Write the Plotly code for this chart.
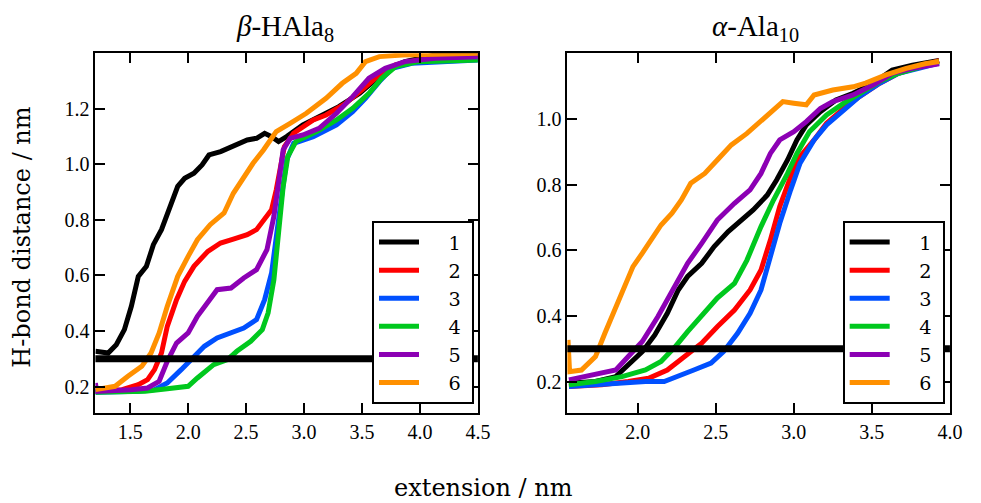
import plotly.graph_objects as go

# ---------------- data ----------------
series_names = ["1", "2", "3", "4", "5", "6"]
series_colors = ["#000000", "#ff0000", "#0050ff", "#00c81e", "#8c00b4", "#ff9000"]
threshold = 0.3

# beta-HAla8 (left panel)
b1_x = [1.20, 1.31, 1.38, 1.45, 1.51, 1.57, 1.64, 1.70, 1.77, 1.84, 1.91, 1.97, 2.05, 2.12, 2.18, 2.28, 2.39, 2.51, 2.59, 2.66, 2.72, 2.78, 2.85, 2.99, 3.13, 3.30, 3.48, 3.62, 3.73, 3.87, 4.13, 4.50]
b1_y = [0.327, 0.321, 0.351, 0.405, 0.489, 0.597, 0.633, 0.711, 0.765, 0.837, 0.921, 0.950, 0.968, 0.998, 1.034, 1.046, 1.064, 1.088, 1.094, 1.112, 1.100, 1.082, 1.100, 1.142, 1.172, 1.208, 1.256, 1.304, 1.346, 1.370, 1.394, 1.394]
b2_x = [1.20, 1.43, 1.57, 1.65, 1.71, 1.77, 1.82, 1.90, 1.97, 2.05, 2.17, 2.28, 2.39, 2.51, 2.59, 2.65, 2.72, 2.76, 2.79, 2.83, 2.91, 3.08, 3.19, 3.36, 3.50, 3.65, 3.79, 3.99, 4.50]
b2_y = [0.183, 0.189, 0.207, 0.225, 0.261, 0.321, 0.417, 0.513, 0.579, 0.633, 0.687, 0.717, 0.731, 0.747, 0.765, 0.795, 0.837, 0.908, 0.980, 1.064, 1.112, 1.160, 1.178, 1.220, 1.268, 1.322, 1.358, 1.376, 1.382]
b3_x = [1.20, 1.57, 1.71, 1.82, 1.94, 2.02, 2.14, 2.25, 2.37, 2.48, 2.59, 2.66, 2.72, 2.76, 2.81, 2.85, 2.91, 3.08, 3.28, 3.42, 3.53, 3.65, 3.76, 3.93, 4.50]
b3_y = [0.180, 0.183, 0.189, 0.213, 0.261, 0.297, 0.345, 0.375, 0.393, 0.411, 0.441, 0.513, 0.609, 0.753, 0.896, 1.016, 1.076, 1.100, 1.142, 1.190, 1.238, 1.298, 1.346, 1.364, 1.376]
b4_x = [1.20, 1.63, 1.82, 2.00, 2.08, 2.22, 2.34, 2.42, 2.54, 2.64, 2.69, 2.74, 2.78, 2.82, 2.86, 2.93, 3.11, 3.28, 3.42, 3.56, 3.67, 3.79, 3.99, 4.50]
b4_y = [0.180, 0.183, 0.192, 0.201, 0.231, 0.279, 0.297, 0.327, 0.363, 0.405, 0.465, 0.585, 0.753, 0.920, 1.028, 1.082, 1.118, 1.160, 1.202, 1.256, 1.310, 1.352, 1.370, 1.376]
b5_x = [1.20, 1.21, 1.51, 1.65, 1.75, 1.82, 1.90, 2.00, 2.08, 2.17, 2.25, 2.37, 2.48, 2.59, 2.68, 2.74, 2.78, 2.82, 2.88, 2.99, 3.13, 3.28, 3.42, 3.56, 3.70, 3.87, 4.13, 4.50]
b5_y = [0.213, 0.183, 0.189, 0.195, 0.219, 0.291, 0.357, 0.393, 0.453, 0.501, 0.549, 0.555, 0.591, 0.621, 0.693, 0.813, 0.944, 1.052, 1.094, 1.106, 1.130, 1.184, 1.244, 1.310, 1.346, 1.370, 1.382, 1.388]
b6_x = [1.20, 1.37, 1.48, 1.60, 1.68, 1.75, 1.82, 1.91, 2.00, 2.08, 2.19, 2.31, 2.39, 2.48, 2.56, 2.65, 2.76, 2.88, 3.02, 3.19, 3.33, 3.45, 3.53, 3.65, 3.85, 4.50]
b6_y = [0.189, 0.201, 0.237, 0.273, 0.321, 0.393, 0.489, 0.597, 0.669, 0.729, 0.783, 0.825, 0.896, 0.956, 1.004, 1.052, 1.118, 1.148, 1.184, 1.238, 1.292, 1.328, 1.370, 1.388, 1.394, 1.400]

# alpha-Ala10 (right panel)
a1_x = [1.56, 1.73, 1.86, 1.94, 2.03, 2.11, 2.19, 2.26, 2.32, 2.41, 2.49, 2.58, 2.66, 2.74, 2.83, 2.89, 2.96, 3.02, 3.08, 3.17, 3.27, 3.38, 3.51, 3.63, 3.76, 3.84, 3.93]
a1_y = [0.195, 0.200, 0.215, 0.251, 0.291, 0.342, 0.408, 0.479, 0.520, 0.560, 0.611, 0.657, 0.692, 0.723, 0.768, 0.814, 0.875, 0.936, 0.982, 1.022, 1.058, 1.078, 1.109, 1.149, 1.164, 1.172, 1.178]
a2_x = [1.56, 1.77, 1.94, 2.07, 2.19, 2.30, 2.41, 2.51, 2.62, 2.72, 2.79, 2.85, 2.91, 2.98, 3.04, 3.13, 3.21, 3.32, 3.42, 3.55, 3.67, 3.80, 3.93]
a2_y = [0.185, 0.190, 0.200, 0.210, 0.235, 0.276, 0.317, 0.367, 0.418, 0.479, 0.540, 0.631, 0.733, 0.824, 0.885, 0.936, 0.987, 1.032, 1.068, 1.109, 1.139, 1.159, 1.178]
a3_x = [1.56, 1.84, 2.05, 2.17, 2.26, 2.36, 2.47, 2.55, 2.64, 2.72, 2.79, 2.85, 2.91, 2.98, 3.04, 3.13, 3.21, 3.32, 3.42, 3.55, 3.67, 3.80, 3.93]
a3_y = [0.185, 0.195, 0.200, 0.200, 0.215, 0.235, 0.256, 0.291, 0.347, 0.408, 0.479, 0.581, 0.682, 0.784, 0.865, 0.936, 0.982, 1.027, 1.068, 1.109, 1.139, 1.154, 1.170]
a4_x = [1.56, 1.73, 1.90, 2.05, 2.15, 2.24, 2.32, 2.41, 2.51, 2.62, 2.70, 2.79, 2.87, 2.96, 3.02, 3.10, 3.21, 3.32, 3.42, 3.55, 3.67, 3.80, 3.93]
a4_y = [0.190, 0.200, 0.215, 0.235, 0.261, 0.306, 0.352, 0.398, 0.454, 0.499, 0.570, 0.672, 0.753, 0.834, 0.895, 0.961, 1.012, 1.048, 1.078, 1.114, 1.139, 1.159, 1.175]
a5_x = [1.56, 1.73, 1.86, 1.94, 2.03, 2.13, 2.24, 2.32, 2.41, 2.51, 2.62, 2.72, 2.79, 2.85, 2.91, 3.00, 3.08, 3.17, 3.25, 3.38, 3.51, 3.63, 3.76, 3.93]
a5_y = [0.205, 0.220, 0.235, 0.276, 0.322, 0.398, 0.489, 0.560, 0.621, 0.692, 0.743, 0.784, 0.834, 0.895, 0.936, 0.961, 0.992, 1.032, 1.053, 1.073, 1.104, 1.139, 1.154, 1.168]
a6_x = [1.554, 1.564, 1.64, 1.73, 1.79, 1.86, 1.92, 1.97, 2.03, 2.09, 2.15, 2.22, 2.28, 2.34, 2.43, 2.51, 2.60, 2.70, 2.79, 2.87, 2.93, 3.00, 3.08, 3.13, 3.25, 3.38, 3.46, 3.59, 3.72, 3.84, 3.93]
a6_y = [0.327, 0.230, 0.235, 0.276, 0.347, 0.428, 0.489, 0.550, 0.591, 0.631, 0.677, 0.713, 0.753, 0.804, 0.834, 0.875, 0.921, 0.956, 0.992, 1.027, 1.053, 1.048, 1.043, 1.073, 1.088, 1.098, 1.109, 1.134, 1.154, 1.168, 1.175]

left_x = [b1_x, b2_x, b3_x, b4_x, b5_x, b6_x]
left_y = [b1_y, b2_y, b3_y, b4_y, b5_y, b6_y]
right_x = [a1_x, a2_x, a3_x, a4_x, a5_x, a6_x]
right_y = [a1_y, a2_y, a3_y, a4_y, a5_y, a6_y]

left_xticks = [1.5, 2.0, 2.5, 3.0, 3.5, 4.0, 4.5]
left_yticks = [0.2, 0.4, 0.6, 0.8, 1.0, 1.2]
right_xticks = [2.0, 2.5, 3.0, 3.5, 4.0]
right_yticks = [0.2, 0.4, 0.6, 0.8, 1.0]

left_title = "<i>β</i>-HAla<sub>8</sub>"
right_title = "<i>α</i>-Ala<sub>10</sub>"
x_label = "extension / nm"
y_label = "H-bond distance / nm"

# ---------------- figure ----------------
W, H = 981, 503
fig = go.Figure()

pad = "\u00a0\u00a0\u00a0\u00a0"
tail = "\u00a0"
for i in range(6):
    fig.add_trace(go.Scatter(x=left_x[i], y=left_y[i], mode="lines", name=pad + series_names[i] + tail,
                             line=dict(color=series_colors[i], width=5), xaxis="x", yaxis="y",
                             legend="legend"))
for i in range(6):
    fig.add_trace(go.Scatter(x=right_x[i], y=right_y[i], mode="lines", name=pad + series_names[i] + tail,
                             line=dict(color=series_colors[i], width=5), xaxis="x2", yaxis="y2",
                             legend="legend2"))

fig.add_shape(type="line", xref="x domain", x0=0, x1=1, yref="y", y0=threshold, y1=threshold,
              line=dict(color="black", width=7), layer="above")
fig.add_shape(type="line", xref="x2 domain", x0=0, x1=1, yref="y2", y0=threshold, y1=threshold,
              line=dict(color="black", width=7), layer="above")

tickfont = dict(family="Liberation Serif", size=20, color="black")
axis_common = dict(showline=True, linecolor="black", linewidth=2, mirror="allticks",
                   ticks="inside", ticklen=10, tickwidth=1.5, tickcolor="black",
                   showgrid=False, zeroline=False, tickfont=tickfont, tickformat=".1f")

legend_common = dict(xanchor="left", yanchor="top", bgcolor="white", bordercolor="black", borderwidth=2,
                     font=dict(family="DejaVu Serif", size=19.3, color="black"), itemwidth=40,
                     tracegroupgap=0)

ydom = [(H - 412.7) / H, (H - 53.3) / H]
fig.update_layout(
    width=W, height=H,
    margin=dict(l=0, r=0, t=0, b=0),
    paper_bgcolor="white", plot_bgcolor="white",
    xaxis=dict(domain=[96.7 / W, 484.3 / W], range=[1.2, 4.5], tickvals=left_xticks, anchor="y", **axis_common),
    yaxis=dict(domain=ydom, range=[0.106, 1.40], tickvals=left_yticks, anchor="x", **axis_common),
    xaxis2=dict(domain=[575 / W, 962.7 / W], range=[1.55, 4.0], tickvals=right_xticks, anchor="y2", **axis_common),
    yaxis2=dict(domain=ydom, range=[0.105, 1.20], tickvals=right_yticks, anchor="x2", **axis_common),
    legend=dict(x=377 / W, y=(H - 221) / H, **legend_common),
    legend2=dict(x=854 / W, y=(H - 221) / H, **legend_common),
    annotations=[
        dict(text=left_title, x=289 / W, y=(H - 28) / H, xref="paper", yref="paper", showarrow=False,
             font=dict(family="Liberation Serif", size=29, color="black"), xanchor="center", yanchor="middle"),
        dict(text=right_title, x=766 / W, y=(H - 28) / H, xref="paper", yref="paper", showarrow=False,
             font=dict(family="Liberation Serif", size=29, color="black"), xanchor="center", yanchor="middle"),
        dict(text=x_label, x=490 / W, y=(H - 488) / H, xref="paper", yref="paper", showarrow=False,
             font=dict(family="DejaVu Serif", size=24, color="black"), xanchor="center", yanchor="middle"),
        dict(text=y_label, x=22 / W, y=(H - 237) / H, xref="paper", yref="paper", showarrow=False,
             textangle=-90, font=dict(family="DejaVu Serif", size=24, color="black"),
             xanchor="center", yanchor="middle"),
    ],
)

fig.write_html("out.html", config={"displayModeBar": False},
               post_script="document.body.style.margin='0px';document.body.style.overflow='hidden';")
